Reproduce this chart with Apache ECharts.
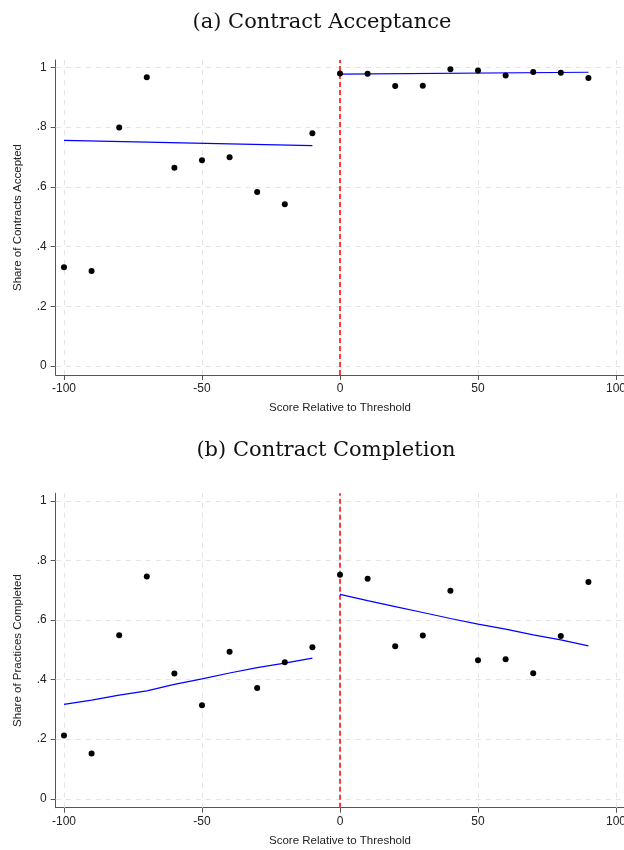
<!DOCTYPE html>
<html><head><meta charset="utf-8">
<script src="https://cdn.jsdelivr.net/npm/echarts@6/dist/echarts.min.js"></script>
<style>html,body{margin:0;padding:0;background:#fff}#c{width:624px;height:850px}</style>
</head><body><div id="c"></div>
<script>
// ---- data ----
const leftBins = [-100, -90, -80, -70, -60, -50, -40, -30, -20, -10];
const rightBins = [0, 10, 20, 30, 40, 50, 60, 70, 80, 90];

const acceptLeft = [0.331, 0.318, 0.799, 0.967, 0.664, 0.689, 0.699, 0.583, 0.542, 0.780];
const acceptRight = [0.980, 0.979, 0.938, 0.939, 0.994, 0.990, 0.973, 0.985, 0.982, 0.965];
const acceptFitLeftX = [-100, -10];
const acceptFitLeft = [0.756, 0.738];
const acceptFitRightX = [0, 90];
const acceptFitRight = [0.978, 0.984];

const completeLeft = [0.212, 0.152, 0.549, 0.746, 0.420, 0.314, 0.493, 0.372, 0.458, 0.508];
const completeRight = [0.752, 0.738, 0.512, 0.548, 0.698, 0.465, 0.468, 0.421, 0.546, 0.727];
const completeFitLeft = [0.317, 0.331, 0.348, 0.362, 0.384, 0.402, 0.422, 0.440, 0.455, 0.472];
const completeFitRight = [0.686, 0.665, 0.645, 0.625, 0.605, 0.586, 0.569, 0.550, 0.533, 0.513];

const xTicks = [-100, -50, 0, 50, 100];
const yTicks = [0, 0.2, 0.4, 0.6, 0.8, 1];
const yTickLabels = ['0', '.2', '.4', '.6', '.8', '1'];

const panelTitles = ['(a) Contract Acceptance', '(b) Contract Completion'];
const yNames = ['Share of Contracts Accepted', 'Share of Practices Completed'];
const xName = 'Score Relative to Threshold';
const cutoff = 0;

// ---- chart ----
const zip = (xs, ys) => xs.map((x, i) => [x, ys[i]]);
const sans = 'Liberation Sans, Arial, sans-serif';
const serif = 'DejaVu Serif, serif';
const axisColor = '#555';

function xAxisDef(gi) {
  return {
    type: 'value', gridIndex: gi, min: -103, max: 103,
    name: xName, nameLocation: 'middle', nameGap: 27,
    nameTextStyle: { fontFamily: sans, fontSize: 11.5, color: '#222' },
    axisLine: { show: true, onZero: false, lineStyle: { color: axisColor, width: 1 } },
    axisTick: { show: true, length: 5, customValues: xTicks, lineStyle: { color: axisColor } },
    axisLabel: { customValues: xTicks, margin: 8, fontFamily: sans, fontSize: 12, color: '#222',
      hideOverlap: false, showMinLabel: true, showMaxLabel: true,
      formatter: v => String(v) },
    splitLine: { show: false }
  };
}
function yAxisDef(gi) {
  return {
    type: 'value', gridIndex: gi, min: -0.03, max: 1.025,
    name: yNames[gi], nameLocation: 'middle', nameGap: 32,
    nameTextStyle: { fontFamily: sans, fontSize: 11.5, color: '#222' },
    axisLine: { show: true, onZero: false, lineStyle: { color: axisColor, width: 1 } },
    axisTick: { show: true, length: 5, customValues: yTicks, lineStyle: { color: axisColor } },
    axisLabel: { customValues: yTicks, margin: 9, fontFamily: sans, fontSize: 12, color: '#222',
      formatter: v => { const i = yTicks.findIndex(t => Math.abs(t - v) < 1e-6); return i >= 0 ? yTickLabels[i] : ''; } },
    splitLine: { show: false }
  };
}
function gridLines(gi) {
  return {
    type: 'line', xAxisIndex: gi, yAxisIndex: gi, data: [], silent: true,
    markLine: {
      z: 1, silent: true, symbol: 'none', label: { show: false }, animation: false,
      lineStyle: { color: '#e4e4e4', type: [5, 5], width: 1 },
      emphasis: { disabled: true },
      data: [...yTicks.map(v => ({ yAxis: v })), ...xTicks.map(v => ({ xAxis: v }))]
    }
  };
}
function cutLine(gi) {
  return {
    type: 'line', xAxisIndex: gi, yAxisIndex: gi, data: [], silent: true,
    markLine: {
      z: 1.5, silent: true, symbol: 'none', label: { show: false }, animation: false,
      lineStyle: { color: '#ff0000', type: [5, 3], width: 1.5, opacity: 1 },
      emphasis: { disabled: true },
      data: [{ xAxis: cutoff }]
    }
  };
}
function dots(gi, xs, ys) {
  return { type: 'scatter', xAxisIndex: gi, yAxisIndex: gi, data: zip(xs, ys), symbolSize: 6,
    itemStyle: { color: '#000', opacity: 1 }, z: 3, silent: true };
}
function fit(gi, xs, ys) {
  return { type: 'line', xAxisIndex: gi, yAxisIndex: gi, data: zip(xs, ys), showSymbol: false,
    symbol: 'none', lineStyle: { color: '#0000ff', width: 1.2 }, z: 2, silent: true };
}

const chart = echarts.init(document.getElementById('c'), null, { renderer: 'canvas' });
chart.setOption({
  animation: false,
  backgroundColor: '#fff',
  title: [
    { text: panelTitles[0], left: 317, top: 7, textAlign: 'center',
      textStyle: { fontFamily: serif, fontWeight: 'normal', fontSize: 21, color: '#111' } },
    { text: panelTitles[1], left: 321, top: 435, textAlign: 'center',
      textStyle: { fontFamily: serif, fontWeight: 'normal', fontSize: 21, color: '#111' } }
  ],
  grid: [
    { left: 55.7, top: 60, width: 568.6, height: 315, containLabel: false, outerBoundsMode: 'none' },
    { left: 55.7, top: 493.3, width: 568.6, height: 314.4, containLabel: false, outerBoundsMode: 'none' }
  ],
  xAxis: [xAxisDef(0), xAxisDef(1)],
  yAxis: [yAxisDef(0), yAxisDef(1)],
  series: [
    gridLines(0), cutLine(0),
    fit(0, acceptFitLeftX, acceptFitLeft), fit(0, acceptFitRightX, acceptFitRight),
    dots(0, leftBins, acceptLeft), dots(0, rightBins, acceptRight),
    gridLines(1), cutLine(1),
    fit(1, leftBins, completeFitLeft), fit(1, rightBins, completeFitRight),
    dots(1, leftBins, completeLeft), dots(1, rightBins, completeRight)
  ]
});
</script></body></html>
